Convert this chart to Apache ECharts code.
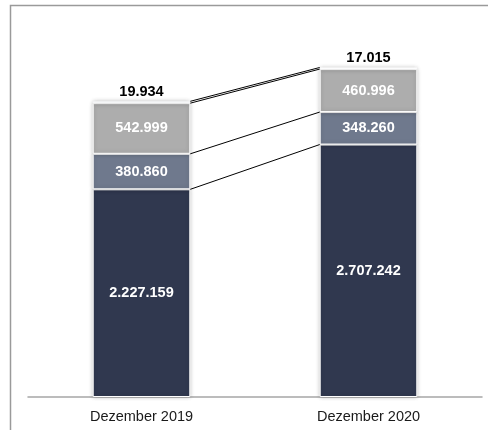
<!DOCTYPE html>
<html>
<head>
<meta charset="utf-8">
<script src="https://cdn.jsdelivr.net/npm/echarts@6/dist/echarts.min.js"></script>
<style>html,body{margin:0;padding:0;background:#fff;}#c{width:488px;height:430px;}</style>
</head>
<body>
<div id="c"></div>
<script>
const categories = ['Dezember 2019', 'Dezember 2020'];
const seriesBase = [2227159, 2707242];
const seriesMid = [380860, 348260];
const seriesUpper = [542999, 460996];
const seriesTop = [19934, 17015];

function fmt(v) {
  return String(Math.round(v)).replace(/\B(?=(\d{3})+(?!\d))/g, '.');
}

// cumulative boundaries for connector lines
const stacks = [seriesBase, seriesMid, seriesUpper, seriesTop];
const connectors = [];
let c0 = 0, c1 = 0;
for (let i = 0; i < stacks.length; i++) {
  c0 += stacks[i][0];
  c1 += stacks[i][1];
  connectors.push([c0, c1]);
}

const BAR_RATIO = 0.43;
const font = 'Arial, "Liberation Sans", sans-serif';
const barStyle = (color) => ({
  color: color,
  borderColor: '#ffffff',
  borderWidth: 1,
  shadowColor: 'rgba(0,0,0,0.22)',
  shadowBlur: 4,
  shadowOffsetX: 0,
  shadowOffsetY: 0
});
const inLabel = {
  show: true,
  position: 'inside',
  color: '#ffffff',
  fontWeight: 'bold',
  fontSize: 14.5,
  fontFamily: font,
  formatter: (p) => fmt(p.value)
};

const chart = echarts.init(document.getElementById('c'), null, {renderer: 'canvas'});
chart.setOption({
  animation: false,
  backgroundColor: '#ffffff',
  graphic: [{
    type: 'polyline',
    shape: {points: [[10.5, 430], [10.5, 5.5], [488, 5.5]]},
    style: {stroke: '#9a9a9a', lineWidth: 1.5, fill: null},
    silent: true
  }],
  grid: {left: 28, right: 6, top: 24, bottom: 33, containLabel: false},
  xAxis: {
    type: 'category',
    data: categories,
    axisLine: {show: true, lineStyle: {color: '#a6a6a6', width: 1.5}},
    axisTick: {show: false},
    axisLabel: {color: '#1a1a1a', fontSize: 14.5, fontFamily: font, margin: 12}
  },
  yAxis: {
    type: 'value',
    min: 0,
    max: 4000000,
    show: false,
    splitLine: {show: false}
  },
  series: [
    {
      name: 'base', type: 'bar', stack: 't', data: seriesBase,
      barWidth: (BAR_RATIO * 100) + '%',
      itemStyle: barStyle('#30384f'), label: inLabel
    },
    {
      name: 'mid', type: 'bar', stack: 't', data: seriesMid,
      itemStyle: barStyle('#6f798d'), label: inLabel
    },
    {
      name: 'upper', type: 'bar', stack: 't', data: seriesUpper,
      itemStyle: barStyle('#adadad'), label: inLabel
    },
    {
      name: 'top', type: 'bar', stack: 't', data: seriesTop,
      itemStyle: barStyle('#a4aabd'),
      label: {
        show: true, position: 'top', distance: 2,
        color: '#000000', fontWeight: 'bold', fontSize: 14.5, fontFamily: font,
        formatter: (p) => fmt(p.value)
      }
    },
    {
      name: 'connectors', type: 'custom',
      data: connectors,
      z: 5,
      renderItem: function (params, api) {
        const band = api.size([1, 0])[0];
        const half = band * BAR_RATIO / 2;
        const p0 = api.coord([0, api.value(0)]);
        const p1 = api.coord([1, api.value(1)]);
        return {
          type: 'line',
          shape: {x1: p0[0] + half, y1: p0[1], x2: p1[0] - half, y2: p1[1]},
          style: {stroke: '#000000', lineWidth: 1}
        };
      },
      encode: {x: -1, y: [0, 1]},
      silent: true
    }
  ]
});
</script>
</body>
</html>
